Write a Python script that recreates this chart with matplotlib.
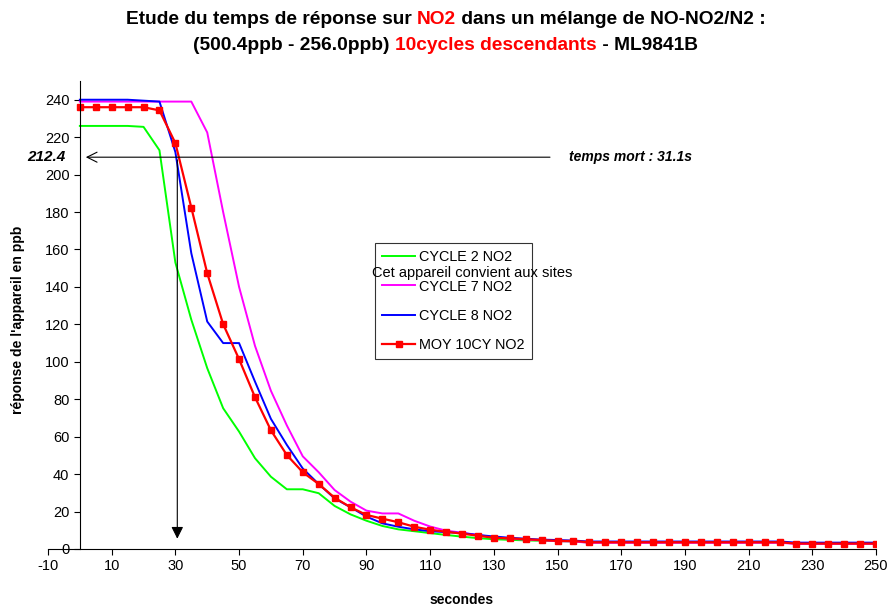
import numpy as np
import matplotlib
matplotlib.use("Agg")
import matplotlib.pyplot as plt

plt.rcParams['font.family'] = ['Liberation Sans', 'DejaVu Sans']
plt.rcParams['axes.unicode_minus'] = False

# temps (s), un point toutes les 5 s
temps = list(range(0, 251, 5))

cycle2 = [226, 226, 226, 226, 225.5, 213, 153, 122.5, 96.6, 75.2, 62.7, 48.5, 38.6, 31.9, 31.9,
          29.8, 23, 18.5, 15.1, 12.3, 10.5, 9.5, 8.5, 7.5, 6.6, 5.8, 5.2, 4.9, 4.6, 4.4, 4.2, 4.0,
          3.5, 3.5, 3.5, 3.5, 3.5, 3.5, 3.5, 3.5, 3.5, 3.5, 3.5, 3.5, 3.5, 3.0, 3.0, 3.0, 3.0, 3.0, 3.0]
cycle7 = [239, 239, 239, 239, 239, 239, 239, 239, 222.5, 180, 140, 108.5, 84.5, 66, 49.5,
          41, 31.5, 25.3, 20.5, 19, 19, 15.1, 12, 9.8, 8.7, 7.5, 6.2, 5.5, 5.0, 4.6, 4.2, 4.0,
          3.3, 3.3, 3.3, 3.3, 3.3, 3.3, 3.3, 3.3, 3.3, 3.3, 3.3, 3.3, 3.3, 2.7, 2.7, 2.7, 2.7, 2.7, 2.7]
cycle8 = [240, 240, 240, 240, 239.5, 239, 212, 158, 121.5, 110, 110, 89.4, 69.5, 55.6, 43,
          34.7, 27, 22.3, 17.3, 13.7, 11.9, 10.5, 9.5, 9.0, 8.5, 7.5, 6.7, 6.0, 5.5, 5.0, 4.8, 4.5,
          4.0, 4.0, 4.0, 4.0, 4.0, 4.0, 4.0, 4.0, 4.0, 4.0, 4.0, 4.0, 4.0, 3.4, 3.4, 3.4, 3.4, 3.4, 3.4]
moy10 = [236, 236, 236, 236, 236, 234.3, 216.8, 182.4, 147.3, 120.1, 101.4, 81.1, 63.4, 50.2, 41,
         34.7, 27.4, 22.3, 18.2, 16.2, 14.3, 11.9, 10.3, 9.2, 8.2, 7.1, 6.0, 5.7, 5.2, 4.8, 4.3, 4.3,
         3.6, 3.6, 3.6, 3.6, 3.6, 3.6, 3.6, 3.6, 3.6, 3.6, 3.6, 3.6, 3.6, 2.9, 2.9, 2.9, 2.9, 2.9, 2.9]

seuil = 212.4
seuil_trace = 209.3   # hauteur de la fleche dans l'original
t_mort = 30.6

fig = plt.figure(figsize=(8.91, 6.09), dpi=100)
ax = fig.add_axes([48/891, 1-549/609, (876-48)/891, (549-81)/609])

ax.plot(temps, cycle2, color="#00FF00", lw=1.4, label="CYCLE 2 NO2")
ax.plot(temps, cycle7, color="#FF00FF", lw=1.4, label="CYCLE 7 NO2")
ax.plot(temps, cycle8, color="#0000FF", lw=1.4, label="CYCLE 8 NO2")
ax.plot(temps, moy10, color="#FF0000", lw=1.6, marker="s", ms=4.5, label="MOY 10CY NO2")

ax.set_xlim(-10, 250)
ax.set_ylim(0, 250)
ax.set_xticks(range(-10, 251, 20))
ax.set_yticks(range(0, 241, 20))
ax.spines['left'].set_position(('data', 0))
ax.spines['right'].set_visible(False)
ax.spines['top'].set_visible(False)
ax.tick_params(labelsize=10.5, length=4, width=0.8, direction='out')

# fleches temps mort
ax.annotate("", xy=(1, seuil_trace), xytext=(148.5, seuil_trace),
            arrowprops=dict(arrowstyle="->", color="black", lw=0.8, mutation_scale=18))
ax.annotate("", xy=(t_mort, 4), xytext=(t_mort, seuil_trace),
            arrowprops=dict(arrowstyle="-|>", color="black", lw=0.8, mutation_scale=18))
ax.text(-4.4, seuil_trace, f"{seuil}", ha="right", va="center",
        fontsize=11, fontweight="bold", fontstyle="italic")
ax.text(153.5, seuil_trace, "temps mort : 31.1s", ha="left", va="center",
        fontsize=10, fontweight="bold", fontstyle="italic")

leg = ax.legend(loc="upper left", bbox_to_anchor=(375/891, 1-243/609),
                bbox_transform=fig.transFigure, fontsize=10.4, frameon=True,
                fancybox=False, edgecolor="black", borderaxespad=0,
                handlelength=2.3, handletextpad=0.25, labelspacing=1.06,
                borderpad=0.5)
leg.get_frame().set_linewidth(0.8)

fig.text(372/891, 1-273/609, "Cet appareil convient aux sites", fontsize=10.5,
         ha="left", va="center")

fig.text(18/891, 1-320/609, "réponse de l'appareil en ppb", rotation=90,
         fontsize=10, fontweight="bold", ha="center", va="center")
fig.text(462/891, 1-600/609, "secondes", fontsize=10, fontweight="bold",
         ha="center", va="center")

# titre multicolore
def titre_ligne(morceaux, y):
    fig.canvas.draw()
    r = fig.canvas.get_renderer()
    objs = []
    for txt, col in morceaux:
        t = fig.text(0, y, txt, color=col, fontsize=13.8, fontweight="bold",
                     ha="left", va="center")
        objs.append(t)
    largeurs = [o.get_window_extent(renderer=r).width for o in objs]
    x = (fig.bbox.width - sum(largeurs)) / 2
    for o, w in zip(objs, largeurs):
        o.set_x(x / fig.bbox.width)
        x += w

titre_ligne([("Etude du temps de réponse sur ", "black"), ("NO2", "red"),
             (" dans un mélange de NO-NO2/N2 :", "black")], 1-19/609)
titre_ligne([("(500.4ppb - 256.0ppb) ", "black"), ("10cycles descendants", "red"),
             (" - ML9841B", "black")], 1-46/609)

fig.savefig("out.png", dpi=100)
